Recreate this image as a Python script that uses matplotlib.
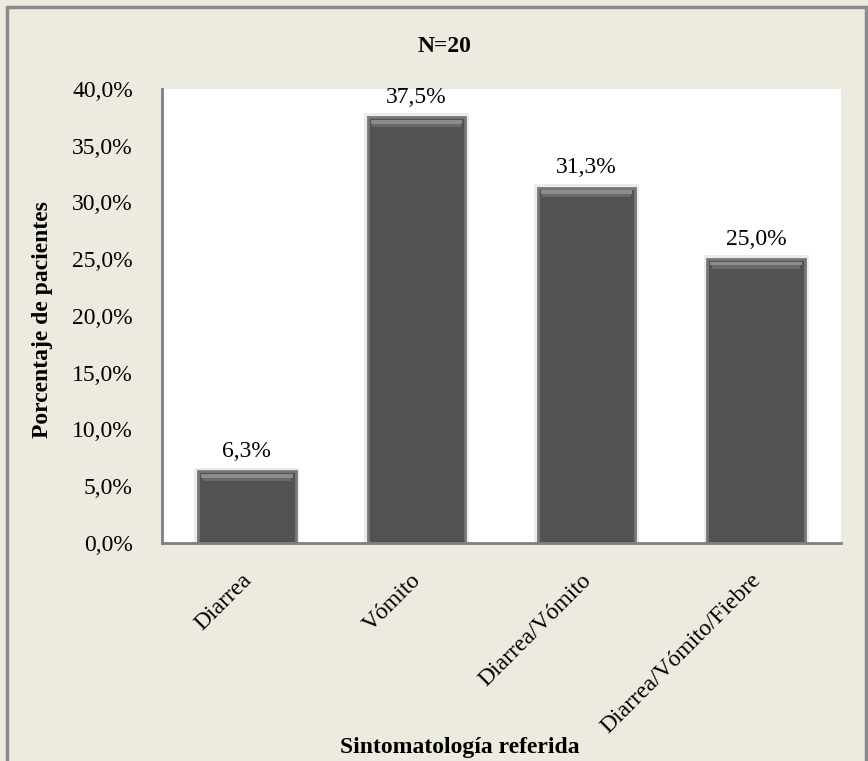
import matplotlib
matplotlib.use("Agg")
import matplotlib.pyplot as plt
from matplotlib.patches import Rectangle
from matplotlib.transforms import ScaledTranslation

categories = ["Diarrea", "Vómito", "Diarrea/Vómito", "Diarrea/Vómito/Fiebre"]
values = [6.3, 37.5, 31.3, 25.0]
yticks = [0, 5, 10, 15, 20, 25, 30, 35, 40]

plt.rcParams['font.family'] = ['Liberation Serif', 'DejaVu Serif']

W, H = 868, 761
FS = 17
fig = plt.figure(figsize=(W/100, H/100), dpi=100)
bg = '#EDEAE0'
fig.patch.set_facecolor(bg)
fig.patches.append(Rectangle((7/W, -0.1), (866-7)/W, 1.1 - 7/H, transform=fig.transFigure,
                             fill=False, edgecolor='#8c8c8c', linewidth=2.5))

ax = fig.add_axes([162/W, 1 - 543/H, (841-162)/W, (543-89)/H])
ax.set_facecolor('white')
x = list(range(len(categories)))
# soft glow behind bars
ax.bar(x, [v + 0.35 for v in values], width=0.62, color='#ebebeb', linewidth=0, zorder=1)
ax.bar(x, values, width=0.575, color='#525252', edgecolor='#777777', linewidth=2.0, zorder=2)
# light top bevel
ax.bar(x, [0.35]*4, bottom=[v - 0.55 for v in values], width=0.54, color='#8c8c8c', linewidth=0, zorder=3)
ax.bar(x, [0.3]*4, bottom=[v - 0.85 for v in values], width=0.52, color='#6a6a6a', linewidth=0, zorder=3)
ax.set_xlim(-0.5, 3.5)
ax.set_ylim(0, 40)
ax.set_yticks(yticks)
ax.set_yticklabels([f"{t:.1f}%".replace('.', ',') for t in yticks], fontsize=FS)
ax.set_xticks(x)
ax.set_xticklabels(categories, rotation=45, ha='right', rotation_mode='anchor', fontsize=FS)
ax.tick_params(axis='y', length=0, pad=21)
ax.tick_params(axis='x', length=0, pad=20)
off = ScaledTranslation(-6/100, 1/100, fig.dpi_scale_trans)
for lbl in ax.get_xticklabels():
    lbl.set_transform(lbl.get_transform() + off)
for s in ['top', 'right']:
    ax.spines[s].set_visible(False)
for s in ['left', 'bottom']:
    ax.spines[s].set_color('#7f7f7f')
    ax.spines[s].set_linewidth(2)
for i, v in enumerate(values):
    ax.text(i, v + 0.85, f"{v:.1f}%".replace('.', ','), ha='center', va='bottom', fontsize=FS)

fig.text(445/W, 1 - 46/H, "N=20", ha='center', va='center', fontsize=FS, fontweight='bold')
fig.text(43/W, 1 - 320/H, "Porcentaje de pacientes", ha='center', va='center', rotation=90,
         fontsize=FS, fontweight='bold')
fig.text(460/W, 1 - 747/H, "Sintomatología referida", ha='center', va='center', fontsize=FS,
         fontweight='bold')

fig.savefig("out.png", dpi=100, facecolor=fig.get_facecolor())
